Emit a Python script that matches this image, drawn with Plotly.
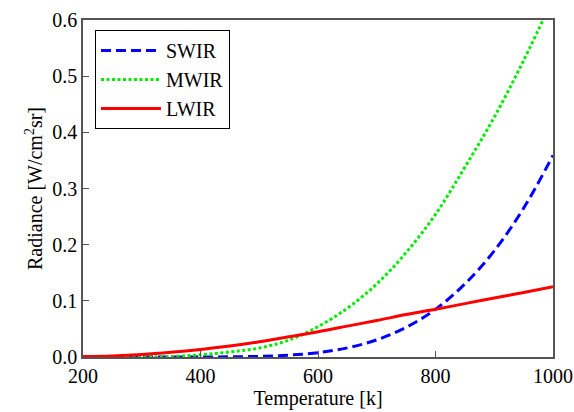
import plotly.graph_objects as go

# Band-integrated blackbody radiance [W/cm^2 sr] versus temperature [K]
temperature = [200, 250, 300, 350, 400, 450, 500, 550, 600, 650, 700,
               750, 800, 850, 900, 950, 1000]
swir = [0.0, 0.0, 0.0, 0.00001, 0.00006, 0.0003, 0.0011, 0.0033, 0.0078,
        0.0162, 0.0305, 0.0527, 0.085, 0.130, 0.189, 0.265, 0.359]
mwir = [0.0, 0.00001, 0.00014, 0.0008, 0.004, 0.009, 0.016, 0.030, 0.054,
        0.087, 0.130, 0.186, 0.254, 0.338, 0.427, 0.528, 0.638]
lwir = [0.0008, 0.002, 0.0045, 0.0085, 0.0135, 0.0195, 0.027, 0.036, 0.045,
        0.055, 0.065, 0.0755, 0.085, 0.095, 0.105, 0.115, 0.125]

x_ticks = [200, 400, 600, 800, 1000]
y_ticks = [0.0, 0.1, 0.2, 0.3, 0.4, 0.5, 0.6]

FONT = "Liberation Serif"
FS = 20

fig = go.Figure()
fig.add_trace(go.Scatter(x=temperature, y=swir, mode="lines", name="SWIR",
                         line=dict(color="#0000ff", width=3, dash="10px,5px",
                                   shape="spline")))
fig.add_trace(go.Scatter(x=temperature, y=mwir, mode="lines", name="MWIR",
                         line=dict(color="#00ee00", width=3, dash="3px,2.5px",
                                   shape="spline")))
fig.add_trace(go.Scatter(x=temperature, y=lwir, mode="lines", name="LWIR",
                         line=dict(color="#ff0000", width=3, shape="spline")))

axis_common = dict(showgrid=False, zeroline=False, showline=True,
                   linecolor="#555555", linewidth=1.5, mirror=True,
                   ticks="inside", ticklen=6, tickwidth=1.2, tickcolor="#555555",
                   automargin=False,
                   tickfont=dict(family=FONT, size=FS, color="black"))

fig.update_xaxes(range=[200, 1000], tickvals=x_ticks,
                 title=dict(text="Temperature [k]", standoff=2,
                            font=dict(family=FONT, size=FS, color="black")),
                 **axis_common)
fig.update_yaxes(range=[0, 0.6], tickvals=y_ticks, tickformat=".1f",
                 title=dict(text="Radiance [W/cm<sup>2</sup>sr]", standoff=4,
                            font=dict(family=FONT, size=FS, color="black")),
                 **axis_common)

fig.update_layout(
    width=574, height=412,
    margin=dict(l=83, r=21, t=20, b=55),
    plot_bgcolor="white", paper_bgcolor="white",
    font=dict(family=FONT, size=FS, color="black"),
    legend=dict(x=0.0255, y=0.97, xanchor="left", yanchor="top",
                bordercolor="black", borderwidth=1, bgcolor="white",
                itemwidth=60, tracegroupgap=0,
                font=dict(family=FONT, size=20, color="black")),
)

fig.write_html("out.html")
